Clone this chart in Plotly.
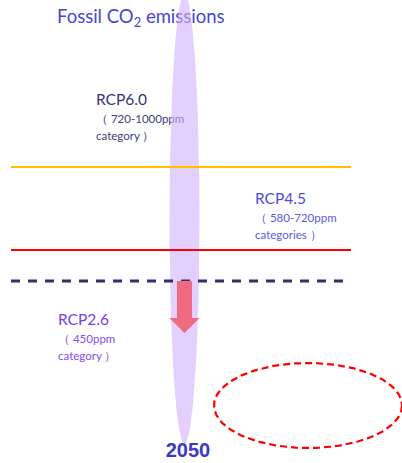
import numpy as np
import plotly.graph_objects as go

# Canvas units (px-like, y grows downward)
W, H = 402, 463

# Scenario thresholds: label, level, line colour, dash
scen_names = ["RCP6.0", "RCP4.5", "RCP2.6"]
scen_ranges = ["（ 720-1000ppm", "（ 580-720ppm", "（ 450ppm"]
scen_tails = ["category ）", "categories ）", "category ）"]
scen_levels = [167, 250, 281]
line_colors = ["#FFC000", "#FF0000", "#2E2E70"]
line_dash = ["solid", "solid", "dash"]
year_label = "2050"
title_text = "Fossil CO<sub>2</sub> emissions"

fig = go.Figure()

FONT = "Lato"

# --- text labels (drawn first so the translucent band sits over them)
def txt(x, y, s, size, color, bold=False):
    fig.add_trace(go.Scatter(
        x=[x], y=[y], mode="text", text=[("<b>%s</b>" % s) if bold else s],
        textposition="middle right",
        textfont=dict(family=FONT, size=size, color=color),
        hoverinfo="skip", showlegend=False))

txt(57, 18, title_text, 18.5, "#4646D6")

label_x = [96, 255, 58]
label_y = [101, 200, 321]
name_col = ["#33337A", "#4B4BE6", "#7A3CF0"]
sub_col = ["#40407F", "#5A5AE6", "#8A4CF0"]
for i in range(3):
    txt(label_x[i], label_y[i], scen_names[i], 15.5, name_col[i])
    txt(label_x[i], label_y[i] + 19, scen_ranges[i], 11.5, sub_col[i])
    txt(label_x[i], label_y[i] + 36, scen_tails[i], 11.5, sub_col[i])

# --- translucent emissions band (tall ellipse)
t = np.linspace(0, 2 * np.pi, 200)
cx, cy, rx, ry = 184.5, 219, 15, 225
fig.add_trace(go.Scatter(
    x=cx + rx * np.cos(t), y=cy + ry * np.sin(t), mode="lines",
    fill="toself", fillcolor="rgba(208,176,255,0.6)", line=dict(width=0),
    hoverinfo="skip", showlegend=False))

# --- scenario threshold lines
for lvl, col, dsh in zip(scen_levels, line_colors, line_dash):
    dashed = dsh == "dash"
    fig.add_trace(go.Scatter(
        x=[11, 351], y=[lvl, lvl], mode="lines",
        line=dict(color=col, width=2.8 if dashed else 2.2,
                  dash="9px,8px" if dashed else "solid"),
        hoverinfo="skip", showlegend=False))

# --- downward arrow from the dashed line
top = scen_levels[2]
ax = [177, 192, 192, 199.5, 184.5, 169.5, 177, 177]
ay = [top, top, 318, 318, 333, 318, 318, top]
fig.add_trace(go.Scatter(
    x=ax, y=ay, mode="lines", fill="toself", fillcolor="#F06A82",
    line=dict(width=0), hoverinfo="skip", showlegend=False))

# --- dashed target ellipse
ex, ey, erx, ery = 308, 405.5, 94, 42.5
fig.add_trace(go.Scatter(
    x=ex + erx * np.cos(t), y=ey + ery * np.sin(t), mode="lines",
    line=dict(color="#FF0000", width=2.2, dash="7px,4px"),
    hoverinfo="skip", showlegend=False))

# --- year label
fig.add_trace(go.Scatter(
    x=[188], y=[452], mode="text", text=["<b>%s</b>" % year_label],
    textposition="middle center",
    textfont=dict(family="Liberation Sans", size=20, color="#3A3AC4"),
    hoverinfo="skip", showlegend=False))

fig.update_layout(
    width=W, height=H, margin=dict(l=0, r=0, t=0, b=0),
    paper_bgcolor="white", plot_bgcolor="white",
    xaxis=dict(range=[0, W], visible=False, fixedrange=True),
    yaxis=dict(range=[H, 0], visible=False, fixedrange=True),
)

fig.write_html("out.html")
